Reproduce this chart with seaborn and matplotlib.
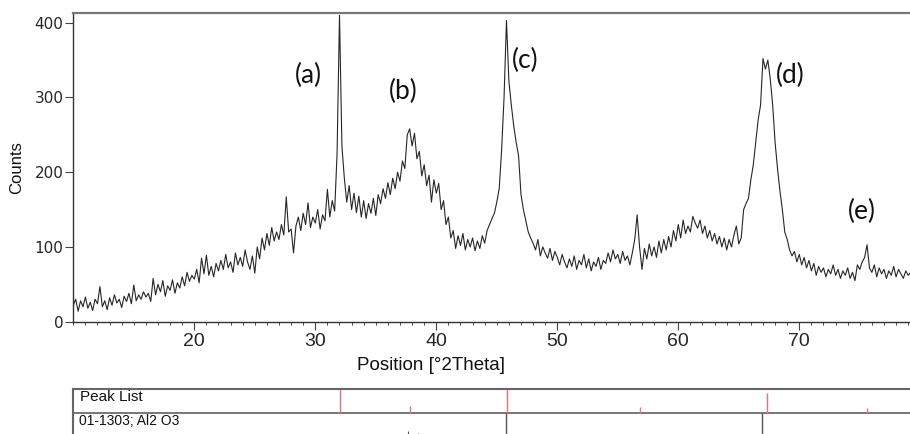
import numpy as np
import pandas as pd
import matplotlib.pyplot as plt
import matplotlib.ticker as ticker
import seaborn as sns

# XRD scan, every 0.2 deg (10.0 ... 79.2)
two_theta = np.round(np.arange(10.0, 79.21, 0.2), 1)
counts = [
    22, 30, 14, 28, 20,   33, 18, 26, 15, 30,   24, 47, 20, 28, 16,      # 10-12
    32, 22, 36, 25, 30,   19, 34, 27, 38, 24,   49, 28, 36, 30, 40,      # 13-15
    33, 38, 27, 58, 36,   50, 40, 55, 34, 48,   42, 56, 38, 52, 45,      # 16-18
    60, 48, 66, 54, 62,   57, 70, 52, 85, 64,   89, 62, 74, 60, 78,      # 19-21
    68, 82, 70, 90, 72,   80, 66, 92, 76, 86,   74, 96, 80, 70, 88,      # 22-24
    65, 100, 84, 112, 96, 118, 102, 126, 108, 120, 110, 130, 116, 167, 120,  # 25-27
    124, 92, 128, 140, 122, 145, 130, 159, 126, 140, 132, 150, 124, 143, 135,  # 28-30
    177, 140, 162, 148, 225, 410, 235, 192, 160, 182, 150, 172, 146, 168, 140,  # 31-33
    162, 138, 158, 145, 165, 142, 170, 158, 178, 165, 186, 170, 192, 178, 200,  # 34-36
    188, 215, 205, 250, 258, 235, 252, 218, 228, 195, 210, 182, 196, 160, 190,  # 37-39
    172, 185, 150, 162, 130, 140, 112, 122, 98, 115, 102, 118, 96, 110, 100,  # 40-42
    112, 95, 108, 98, 115, 105, 122, 130, 138, 145, 160, 178, 230, 300, 403,  # 43-45
    322, 290, 262, 240, 222, 170, 150, 135, 120, 112, 105, 96, 110, 88, 100,  # 46-48
    92, 85, 98, 82, 94,   86, 76, 90, 80, 72,   84, 74, 88, 70, 82,      # 49-51
    76, 90, 72, 84, 68,   80, 74, 86, 70, 82,   78, 92, 80, 96, 84,      # 52-54
    90, 78, 94, 82, 88,   76, 92, 110, 143, 100, 70, 98, 84, 104, 88,    # 55-57
    100, 86, 108, 92, 110, 96, 114, 100, 122, 108, 130, 112, 136, 118, 128,  # 58-60
    120, 141, 132, 125, 136, 118, 128, 112, 122, 108, 118, 104, 114, 100, 112,  # 61-63
    96, 110, 100, 116, 128, 104, 112, 150, 158, 165, 190, 210, 240, 270, 290,  # 64-66
    352, 338, 350, 325, 290, 240, 205, 175, 150, 120, 110, 96, 88, 94, 80,  # 67-69
    90, 76, 86, 72, 82,   68, 78, 62, 74, 66,   72, 60, 70, 64, 76,      # 70-72
    62, 70, 58, 68, 62,   72, 58, 66, 55, 76,   70, 80, 86, 103, 72,     # 73-75
    66, 76, 60, 72, 64,   70, 58, 68, 62, 74,   60, 70, 64, 58, 68,      # 76-78
    62, 66,                                                              # 79
]

x_ticks = [20, 30, 40, 50, 60, 70]
y_ticks = [0, 100, 200, 300, 400]

peak_labels = ["(a)", "(b)", "(c)", "(d)", "(e)"]
label_x = [29.4, 37.25, 47.33, 69.23, 75.18]
label_y = [330, 308, 350, 330, 147]

# peak list strip
peak_pos = [32.04, 37.83, 45.82, 56.84, 67.3, 75.57]
peak_rel = [100, 30, 100, 26, 85, 22]
ref_pos = [45.8, 66.9]

df = pd.DataFrame({"two_theta": two_theta, "counts": counts})

sns.set_theme(style="white")
plt.rcParams["font.family"] = ["Liberation Sans", "DejaVu Sans"]

W, H = 910, 434
fig = plt.figure(figsize=(W / 100, H / 100), dpi=100)
ax = fig.add_axes([73.3 / W, (H - 321.7) / H, (W - 73.3) / W, (321.7 - 13.3) / H])

sns.lineplot(data=df, x="two_theta", y="counts", ax=ax, color="#262626", linewidth=0.8)

ax.set_xlim(10, 79.15)
ax.set_ylim(0, 412.6)
ax.set_xticks(x_ticks)
ax.xaxis.set_minor_locator(ticker.MultipleLocator(1))
ax.set_yticks(y_ticks)
ax.tick_params(axis="x", which="major", direction="out", length=6, width=0.8,
               color="#444444", labelsize=14, pad=2, bottom=True)
ax.tick_params(axis="x", which="minor", direction="out", length=2.5, width=0.7,
               color="#444444", bottom=True)
ax.tick_params(axis="y", which="major", direction="out", length=6, width=0.8,
               color="#444444", labelsize=11, pad=1, left=True)
for lab in ax.get_yticklabels():
    lab.set_family("DejaVu Sans")

ax.set_xlabel("Position [°2Theta]", fontsize=13.5, color="#111111")
ax.xaxis.set_label_coords((431 - 73.3) / (W - 73.3), -0.115)
ax.set_ylabel("Counts", fontsize=12, color="#111111")
ax.yaxis.set_label_coords(-0.059, 0.5)

ax.spines["right"].set_visible(False)
ax.spines["top"].set_color("#777777")
ax.spines["top"].set_linewidth(1.6)
ax.spines["left"].set_color("#333333")
ax.spines["left"].set_linewidth(1.0)
ax.spines["bottom"].set_color("#333333")
ax.spines["bottom"].set_linewidth(1.0)

for lab, x, y in zip(peak_labels, label_x, label_y):
    ax.text(x, y, lab, fontsize=19, family="Lato", ha="center", va="center", color="#111111")

# peak list strip under the scan (y in pixel rows)
px = fig.add_axes([73.3 / W, 0, (W - 73.3) / W, (H - 389.3) / H])
px.set_xlim(10, 79.15)
px.set_ylim(434, 389.3)
px.set_xticks([])
px.set_yticks([])
for s in ["left", "top"]:
    px.spines[s].set_color("#666666")
    px.spines[s].set_linewidth(1.5)
px.spines["right"].set_visible(False)
px.spines["bottom"].set_visible(False)
px.axhline(413.3, color="#777777", linewidth=1.4)
sep = 413.3
px.vlines(peak_pos, [sep - r / 100 * 24 for r in peak_rel], sep, color="#f07070", linewidth=1.0)
px.vlines(ref_pos, sep, 434, color="#555555", linewidth=1.0)
px.vlines([37.7, 38.5], [430.5, 432.5], 434, color="#555555", linewidth=0.8)
px.text(10.55, 397, "Peak List", fontsize=11, va="center", ha="left", color="#111111")
px.text(10.45, 421, "01-1303; Al2 O3", fontsize=10, va="center", ha="left", color="#111111")

fig.savefig("out.png", dpi=100)
